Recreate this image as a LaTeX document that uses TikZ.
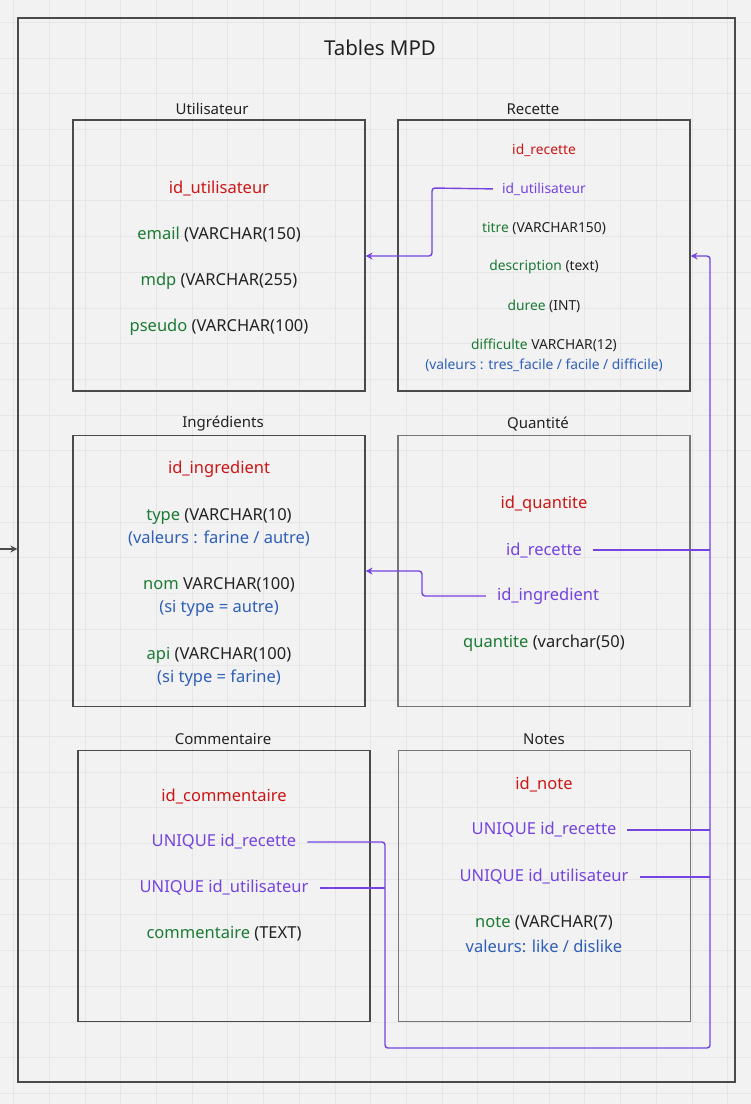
\documentclass[tikz,border=0pt]{standalone}
\usepackage{fontspec}
\setmainfont{Noto Sans}
\usetikzlibrary{arrows.meta}
\definecolor{bg}{HTML}{F2F2F2}
\definecolor{gridc}{HTML}{E6E6E6}
\definecolor{pk}{HTML}{CC1616}
\definecolor{fld}{HTML}{1B7A34}
\definecolor{fk}{HTML}{7443E0}
\definecolor{note}{HTML}{2F5FB8}
\definecolor{ink}{HTML}{222222}
\definecolor{frame}{HTML}{4A4A4A}
\definecolor{frame2}{HTML}{767676}
\newcommand{\pkf}[1]{{\color{pk}#1}}
\newcommand{\fldf}[1]{{\color{fld}#1}}
\newcommand{\fkf}[1]{{\color{fk}#1}}
\newcommand{\notef}[1]{{\color{note}#1}}
\tikzset{
  x=1pt, y=-1pt,
  tbl/.style={draw=frame, line width=1.1pt, minimum width=292pt, minimum height=271pt, inner sep=0pt},
  tbl2/.style={tbl, draw=frame2, line width=1.6pt},
  ttl/.style={font=\fontsize{15}{18}\selectfont, text=ink, inner sep=0pt, yshift=-1pt},
  fbig/.style={font=\fontsize{16.5}{19}\selectfont, text=ink, inner sep=3pt, yshift=-1pt},
  fsm/.style={font=\fontsize{13.8}{16}\selectfont, text=ink, inner sep=3pt, yshift=-1pt},
  link/.style={draw=fk, line width=1.4pt, rounded corners=3pt},
  tip/.style={-{Stealth[length=7pt,width=7pt]}}
}
\begin{document}
\begin{tikzpicture}
\useasboundingbox (0,0) rectangle (751,1104);
\fill[bg] (0,0) rectangle (751,1104);
\foreach \i in {0,...,21} {\draw[gridc, line width=0.8pt] (13.6+35.7*\i,0) -- (13.6+35.7*\i,1104);}
\foreach \j in {0,...,30} {\draw[gridc, line width=0.8pt] (0,22.3+35.7*\j) -- (751,22.3+35.7*\j);}

% outer frame
\node[draw=frame, line width=1.3pt, minimum width=717pt, minimum height=1064pt, inner sep=0pt] (outer) at (376.5,550) {};
\node[font=\fontsize{20.5}{24}\selectfont, text=ink] (title) at (380,48) {Tables MPD};
\coordinate (src) at (0,549);
\draw[frame, line width=1.3pt, tip] (src) -- (outer.west |- src);

% tables
\node[tbl] (util) at (219,255.5) {};
\node[tbl] (rec) at (544,255.5) {};
\node[tbl] (ingr) at (219,571) {};
\node[tbl2] (quant) at (544,571) {};
\node[tbl] (comm) at (224,886) {};
\node[tbl2] (notes) at (544.5,886) {};

\node[ttl] (tu) at (212,108) {Utilisateur};
\node[ttl] (tr) at (533,108) {Recette};
\node[ttl] (ti) at (223,423) {Ingrédients};
\node[ttl] (tq) at (538,423) {Quantité};
\node[ttl] (tc) at (223,738) {Commentaire};
\node[ttl] (tn) at (544,738) {Notes};

% Utilisateur
\node[fbig] (u_id) at (219,187) {\pkf{id\_utilisateur}};
\node[fbig] (u_em) at (219,234) {\fldf{email} (VARCHAR(150)};
\node[fbig] (u_md) at (219,280) {\fldf{mdp} (VARCHAR(255)};
\node[fbig] (u_ps) at (219,326) {\fldf{pseudo} (VARCHAR(100)};

% Recette
\node[fsm] (r_id) at (544,149) {\pkf{id\_recette}};
\node[fsm] (r_uid) at (544,188) {\fkf{id\_utilisateur}};
\node[fsm] (r_ti) at (544,227) {\fldf{titre} (VARCHAR150)};
\node[fsm] (r_de) at (544,266) {\fldf{description} (text)};
\node[fsm] (r_du) at (544,305) {\fldf{duree} (INT)};
\node[fsm] (r_di) at (544,344) {\fldf{difficulte} VARCHAR(12)};
\node[fsm] (r_va) at (544,364) {\notef{(valeurs : tres\_facile / facile / difficile)}};

% Ingredients
\node[fbig] (i_id) at (219,468) {\pkf{id\_ingredient}};
\node[fbig] (i_ty) at (219,515) {\fldf{type} (VARCHAR(10)};
\node[fbig] (i_tv) at (219,537) {\notef{(valeurs : farine / autre)}};
\node[fbig] (i_no) at (219,584) {\fldf{nom} VARCHAR(100)};
\node[fbig] (i_nv) at (219,607) {\notef{(si type = autre)}};
\node[fbig] (i_ap) at (219,654) {\fldf{api} (VARCHAR(100)};
\node[fbig] (i_av) at (219,677) {\notef{(si type = farine)}};

% Quantite
\node[fbig] (q_id) at (544,503) {\pkf{id\_quantite}};
\node[fbig] (q_rid) at (544,549) {\fkf{id\_recette}};
\node[fbig] (q_iid) at (548,595) {\fkf{id\_ingredient}};
\node[fbig] (q_q) at (544,642) {\fldf{quantite} (varchar(50)};

% Commentaire
\node[fbig] (c_id) at (224,795) {\pkf{id\_commentaire}};
\node[fbig] (c_rid) at (224,841) {\fkf{UNIQUE id\_recette}};
\node[fbig] (c_uid) at (224,887) {\fkf{UNIQUE id\_utilisateur}};
\node[fbig] (c_tx) at (224,933) {\fldf{commentaire} (TEXT)};

% Notes
\node[fbig] (n_id) at (544,783) {\pkf{id\_note}};
\node[fbig] (n_rid) at (544,829) {\fkf{UNIQUE id\_recette}};
\node[fbig] (n_uid) at (544,876) {\fkf{UNIQUE id\_utilisateur}};
\node[fbig] (n_no) at (544,922) {\fldf{note} (VARCHAR(7)};
\node[fbig] (n_va) at (544,945) {\notef{valeurs: like / dislike}};

% connectors
\coordinate (busx) at (710,0);
\coordinate (cbusx) at (385,0);
\draw[link, tip, shorten <=6pt] (r_uid.west) -- (432,188) -- (432,256) -- (util.east |- 0,256);
\draw[link, tip, shorten <=8pt] (q_iid.west) -- (422,596) -- (422,571) -- (ingr.east |- 0,571);
\draw[link, tip, shorten <=8pt] (c_rid.east) -- (cbusx |- c_rid.east) -- (385,1048) -- (710,1048) -- (710,256) -- (rec.east |- 0,256);
\draw[link, shorten <=8pt] (c_uid.east) -- (cbusx |- c_uid.east);
\draw[link, shorten <=8pt] (q_rid.east) -- (busx |- q_rid.east);
\draw[link, shorten <=8pt] (n_rid.east) -- (busx |- n_rid.east);
\draw[link, shorten <=8pt] (n_uid.east) -- (busx |- n_uid.east);
\end{tikzpicture}
\end{document}
